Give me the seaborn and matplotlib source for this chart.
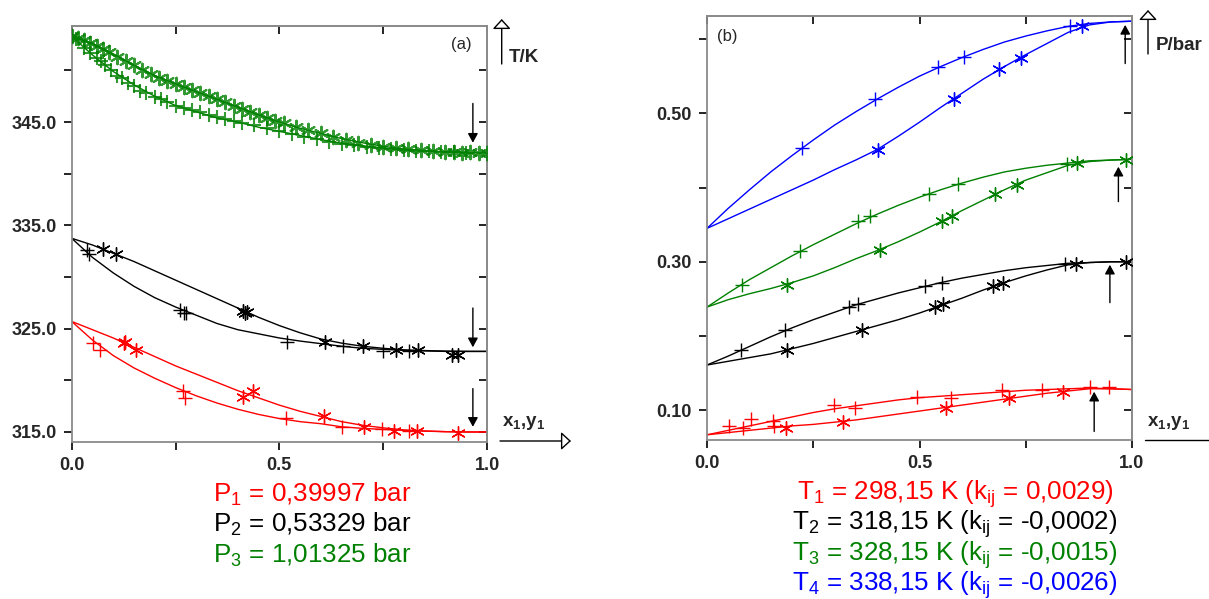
import matplotlib
matplotlib.use("Agg")
import matplotlib.pyplot as plt
import seaborn as sns
from matplotlib.ticker import FixedLocator

# ---------------- data: panel (a)  T / K vs x1,y1 ----------------
grid = [0.0, 0.05, 0.1, 0.15, 0.2, 0.25, 0.3, 0.35, 0.4, 0.45, 0.5,
        0.55, 0.6, 0.65, 0.7, 0.75, 0.8, 0.85, 0.9, 0.95, 1.0]

a_red_bub = [325.7, 323.9, 322.4, 321.2, 320.2, 319.3, 318.5, 317.8, 317.2, 316.7, 316.3,
             316.0, 315.8, 315.5, 315.35, 315.25, 315.15, 315.08, 315.03, 315.0, 315.0]
a_red_dew = [325.7, 324.9, 324.1, 323.2, 322.3, 321.4, 320.6, 319.8, 319.0, 318.3, 317.6,
             317.0, 316.5, 316.0, 315.65, 315.4, 315.2, 315.1, 315.03, 315.0, 315.0]
a_blk_bub = [333.75, 331.9, 330.4, 329.1, 328.0, 327.1, 326.3, 325.5, 324.9, 324.5, 324.1,
             323.8, 323.55, 323.3, 323.1, 323.0, 322.9, 322.85, 322.8, 322.8, 322.8]
a_blk_dew = [333.75, 333.1, 332.3, 331.5, 330.6, 329.7, 328.8, 327.9, 327.0, 326.1, 325.3,
             324.6, 324.0, 323.6, 323.3, 323.1, 322.95, 322.88, 322.83, 322.8, 322.8]
a_grn_bub = [353.3, 351.5, 349.9, 348.6, 347.5, 346.6, 346.0, 345.4, 345.0, 344.5, 344.1,
             343.7, 343.3, 342.95, 342.7, 342.5, 342.3, 342.2, 342.1, 342.05, 342.0]
a_grn_dew = [353.3, 352.6, 351.6, 350.5, 349.5, 348.7, 347.95, 347.2, 346.45, 345.7, 345.0,
             344.4, 343.9, 343.4, 343.0, 342.65, 342.4, 342.25, 342.1, 342.05, 342.0]

a_red_px = [0.052, 0.067, 0.267, 0.273, 0.516, 0.652, 0.746, 0.812]
a_red_pT = [323.6, 322.9, 319.0, 318.3, 316.4, 315.5, 315.3, 315.1]
a_red_sx = [0.126, 0.128, 0.155, 0.413, 0.437, 0.608, 0.704, 0.777, 0.832, 0.931]
a_red_sT = [323.6, 323.7, 322.9, 318.4, 319.0, 316.5, 315.5, 315.1, 315.1, 314.9]

a_blk_px = [0.036, 0.042, 0.261, 0.271, 0.276, 0.518, 0.654, 0.749, 0.812]
a_blk_pT = [332.6, 332.2, 326.8, 326.5, 326.5, 323.7, 323.3, 322.8, 322.8]
a_blk_sx = [0.075, 0.107, 0.413, 0.417, 0.421, 0.610, 0.701, 0.781, 0.833, 0.915, 0.930]
a_blk_sT = [332.7, 332.2, 326.7, 326.5, 326.6, 323.7, 323.3, 322.9, 322.9, 322.5, 322.5]

a_grn_px = [0.01, 0.03, 0.045, 0.06, 0.07, 0.08, 0.095, 0.11, 0.12, 0.135, 0.15, 0.165,
            0.18, 0.2, 0.215, 0.23, 0.25, 0.27, 0.29, 0.31, 0.33, 0.35, 0.37, 0.39, 0.41,
            0.44, 0.47, 0.5, 0.53, 0.56, 0.59, 0.62, 0.65, 0.68, 0.71, 0.74, 0.77, 0.8,
            0.83, 0.86, 0.89, 0.92, 0.95]
a_grn_pT = [353.0, 352.2, 351.7, 351.2, 350.9, 350.5, 350.0, 349.5, 349.3, 348.8, 348.5, 348.0,
            347.8, 347.4, 347.2, 346.9, 346.6, 346.4, 346.2, 346.0, 345.7, 345.5, 345.3, 345.1, 344.9,
            344.7, 344.4, 344.1, 343.8, 343.6, 343.4, 343.1, 342.9, 342.8, 342.6, 342.5, 342.4, 342.3,
            342.2, 342.2, 342.1, 342.1, 342.0]
a_grn_sx = [0.0, 0.015, 0.03, 0.045, 0.06, 0.075, 0.09, 0.11, 0.13, 0.15, 0.17, 0.19, 0.21,
            0.23, 0.25, 0.27, 0.29, 0.31, 0.33, 0.35, 0.37, 0.39, 0.41, 0.43, 0.45, 0.47, 0.49,
            0.51, 0.54, 0.57, 0.6, 0.63, 0.66, 0.69, 0.72, 0.75, 0.78, 0.81, 0.84, 0.87, 0.9,
            0.92, 0.94, 0.96, 0.98, 1.0]
a_grn_sT = [353.3, 353.1, 352.9, 352.7, 352.4, 352.1, 351.8, 351.3, 350.9, 350.5, 350.0, 349.7, 349.3,
            349.0, 348.7, 348.4, 348.1, 347.8, 347.5, 347.2, 346.9, 346.6, 346.3, 346.0, 345.7, 345.4, 345.1,
            344.9, 344.5, 344.2, 343.9, 343.6, 343.3, 343.0, 342.8, 342.6, 342.5, 342.4, 342.3, 342.2, 342.1,
            342.1, 342.0, 342.1, 342.0, 342.0]

# ---------------- data: panel (b)  P / bar vs x1,y1 ----------------
b_blu_bub = [0.345, 0.372, 0.397, 0.421, 0.443, 0.464, 0.484, 0.502, 0.519, 0.535, 0.550,
             0.563, 0.575, 0.586, 0.596, 0.604, 0.611, 0.617, 0.621, 0.623, 0.624]
b_blu_dew = [0.345, 0.358, 0.371, 0.384, 0.397, 0.410, 0.424, 0.437, 0.451, 0.469, 0.488,
             0.508, 0.527, 0.546, 0.563, 0.579, 0.594, 0.609, 0.619, 0.623, 0.624]
b_grn_bub = [0.239, 0.258, 0.276, 0.292, 0.308, 0.323, 0.337, 0.351, 0.364, 0.376, 0.387,
             0.397, 0.406, 0.414, 0.421, 0.426, 0.430, 0.433, 0.436, 0.437, 0.438]
b_grn_dew = [0.239, 0.249, 0.257, 0.264, 0.272, 0.281, 0.292, 0.304, 0.315, 0.327, 0.340,
             0.354, 0.369, 0.383, 0.397, 0.410, 0.420, 0.430, 0.435, 0.437, 0.438]
b_blk_bub = [0.161, 0.173, 0.186, 0.199, 0.211, 0.222, 0.232, 0.242, 0.250, 0.258, 0.265,
             0.272, 0.278, 0.283, 0.288, 0.292, 0.295, 0.298, 0.299, 0.300, 0.300]
b_blk_dew = [0.161, 0.166, 0.171, 0.176, 0.183, 0.190, 0.198, 0.206, 0.214, 0.222, 0.231,
             0.241, 0.251, 0.262, 0.272, 0.281, 0.289, 0.296, 0.299, 0.300, 0.300]
b_red_bub = [0.067, 0.073, 0.079, 0.085, 0.091, 0.097, 0.102, 0.106, 0.110, 0.114, 0.117,
             0.119, 0.121, 0.123, 0.125, 0.127, 0.128, 0.129, 0.130, 0.129, 0.128]
b_red_dew = [0.067, 0.070, 0.073, 0.076, 0.079, 0.081, 0.084, 0.087, 0.091, 0.095, 0.099,
             0.103, 0.107, 0.111, 0.115, 0.119, 0.123, 0.126, 0.129, 0.129, 0.128]

b_blu_px = [0.223, 0.395, 0.544, 0.605, 0.853]
b_blu_pP = [0.453, 0.519, 0.562, 0.576, 0.617]
b_blu_sx = [0.403, 0.580, 0.688, 0.738, 0.882]
b_blu_sP = [0.451, 0.519, 0.560, 0.575, 0.617]

b_grn_px = [0.082, 0.219, 0.356, 0.384, 0.523, 0.591, 0.848]
b_grn_pP = [0.269, 0.315, 0.355, 0.361, 0.391, 0.405, 0.432]
b_grn_sx = [0.188, 0.407, 0.552, 0.576, 0.678, 0.729, 0.871, 0.986]
b_grn_sP = [0.269, 0.316, 0.355, 0.362, 0.391, 0.403, 0.433, 0.437]

b_blk_px = [0.079, 0.184, 0.335, 0.356, 0.513, 0.552, 0.842]
b_blk_pP = [0.181, 0.208, 0.239, 0.243, 0.267, 0.272, 0.297]
b_blk_sx = [0.188, 0.364, 0.536, 0.556, 0.672, 0.697, 0.868, 0.986]
b_blk_sP = [0.181, 0.208, 0.239, 0.243, 0.267, 0.272, 0.297, 0.300]

b_red_px = [0.052, 0.084, 0.103, 0.156, 0.158, 0.299, 0.348, 0.495, 0.573, 0.693, 0.788, 0.900, 0.947]
b_red_pP = [0.079, 0.076, 0.088, 0.085, 0.079, 0.107, 0.103, 0.118, 0.116, 0.127, 0.127, 0.131, 0.132]
b_red_sx = [0.186, 0.321, 0.562, 0.711, 0.838]
b_red_sP = [0.076, 0.084, 0.103, 0.116, 0.124]

# arrows (x, from, to)
a_arrows = [(0.966, 346.8, 343.0), (0.966, 327.0, 323.2), (0.966, 319.2, 315.5)]
b_arrows = [(0.984, 0.567, 0.619), (0.968, 0.381, 0.428), (0.948, 0.245, 0.296), (0.911, 0.0715, 0.125)]

# texts
a_legend = ["P$_1$ = 0,39997 bar", "P$_2$ = 0,53329 bar", "P$_3$ = 1,01325 bar"]
a_legend_colors = ["#ff0000", "#000000", "#008000"]
b_legend = ["T$_1$ = 298,15 K (k$_{ij}$ = 0,0029)", "T$_2$ = 318,15 K (k$_{ij}$ = -0,0002)",
            "T$_3$ = 328,15 K (k$_{ij}$ = -0,0015)", "T$_4$ = 338,15 K (k$_{ij}$ = -0,0026)"]
b_legend_colors = ["#ff0000", "#000000", "#008000", "#0000ff"]

a_yticks_major = [315.0, 325.0, 335.0, 345.0]
a_yticks_minor = [320.0, 330.0, 340.0, 350.0]
b_yticks_major = [0.10, 0.30, 0.50]
b_yticks_minor = [0.20, 0.40, 0.60]
x_ticks_major = [0.0, 0.5, 1.0]
x_ticks_minor = [0.25, 0.75]

# ---------------- styling ----------------
sns.set_theme(style="white")
plt.rcParams["font.family"] = ["Liberation Sans", "DejaVu Sans"]
plt.rcParams["mathtext.default"] = "regular"

W, H = 1209, 599
fig = plt.figure(figsize=(W / 100, H / 100), dpi=100)


def px(x, y):
    return (x / W, 1 - y / H)


def add_axes(l, t, r, b):
    return fig.add_axes([l / W, 1 - b / H, (r - l) / W, (b - t) / H])


ax_a = add_axes(71.7, 26, 487, 442)
ax_b = add_axes(707, 16, 1132, 440)

ASTER = (6, 2, 0)
GRAY = "#8a8a8a"


def series(ax, xc, yb, yd, pxs, pys, sxs, sys_, color, alpha=1.0, lw_m=1.0):
    sns.lineplot(x=grid, y=yb, ax=ax, color=color, lw=1.0, sort=False, estimator=None, legend=False)
    sns.lineplot(x=grid, y=yd, ax=ax, color=color, lw=1.0, sort=False, estimator=None, legend=False)
    sns.scatterplot(x=pxs, y=pys, ax=ax, marker="+", s=100, color=color, linewidth=lw_m,
                    alpha=alpha, legend=False, zorder=3)
    sns.scatterplot(x=sxs, y=sys_, ax=ax, marker=ASTER, s=95, color=color, linewidth=lw_m,
                    alpha=alpha, legend=False, zorder=3)


series(ax_a, grid, a_grn_bub, a_grn_dew, a_grn_px, a_grn_pT, a_grn_sx, a_grn_sT, "#008000", 0.8, 1.5)
series(ax_a, grid, a_blk_bub, a_blk_dew, a_blk_px, a_blk_pT, a_blk_sx, a_blk_sT, "#000000")
series(ax_a, grid, a_red_bub, a_red_dew, a_red_px, a_red_pT, a_red_sx, a_red_sT, "#ff0000")

series(ax_b, grid, b_blu_bub, b_blu_dew, b_blu_px, b_blu_pP, b_blu_sx, b_blu_sP, "#0000ff")
series(ax_b, grid, b_grn_bub, b_grn_dew, b_grn_px, b_grn_pP, b_grn_sx, b_grn_sP, "#008000")
series(ax_b, grid, b_blk_bub, b_blk_dew, b_blk_px, b_blk_pP, b_blk_sx, b_blk_sP, "#000000")
series(ax_b, grid, b_red_bub, b_red_dew, b_red_px, b_red_pP, b_red_sx, b_red_sP, "#ff0000")

ax_a.set_xlim(0, 1)
ax_a.set_ylim(314.03, 354.3)
ax_b.set_xlim(0, 1)
ax_b.set_ylim(0.060, 0.631)

arrow_kw = dict(arrowstyle="-|>,head_length=0.55,head_width=0.3", color="black", lw=1.0,
                mutation_scale=10, shrinkA=0, shrinkB=0)
for x, y0, y1 in a_arrows:
    ax_a.annotate("", xy=(x, y1), xytext=(x, y0), arrowprops=arrow_kw)
for x, y0, y1 in b_arrows:
    ax_b.annotate("", xy=(x, y1), xytext=(x, y0), arrowprops=arrow_kw)


def style_axes(ax, ymaj, ymin, yfmt):
    ax.set_xlabel("")
    ax.set_ylabel("")
    for s in ax.spines.values():
        s.set_visible(True)
        s.set_color(GRAY)
        s.set_linewidth(1.3)
    ax.xaxis.set_major_locator(FixedLocator(x_ticks_major))
    ax.xaxis.set_minor_locator(FixedLocator(x_ticks_minor))
    ax.yaxis.set_major_locator(FixedLocator(ymaj))
    ax.yaxis.set_minor_locator(FixedLocator(ymin))
    ax.set_xticklabels([f"{v:.1f}" for v in x_ticks_major], fontweight="bold", fontsize=13)
    ax.set_yticklabels([yfmt.format(v) for v in ymaj], fontweight="bold", fontsize=13)
    ax.tick_params(which="both", direction="out", length=6, width=1.2, color="black",
                   left=True, bottom=True, top=False, right=False, pad=5)
    # inward ticks on top and right
    sx = ax.secondary_xaxis("top")
    sx.xaxis.set_major_locator(FixedLocator(x_ticks_major + x_ticks_minor))
    sx.tick_params(direction="in", length=6, width=1.2, color="black", labeltop=False)
    sx.spines["top"].set_color(GRAY)
    sx.spines["top"].set_linewidth(1.3)
    sy = ax.secondary_yaxis("right")
    sy.yaxis.set_major_locator(FixedLocator(ymaj + ymin))
    sy.tick_params(direction="in", length=6, width=1.2, color="black", labelright=False)
    sy.spines["right"].set_color(GRAY)
    sy.spines["right"].set_linewidth(1.3)


style_axes(ax_a, a_yticks_major, a_yticks_minor, "{:.1f}")
style_axes(ax_b, b_yticks_major, b_yticks_minor, "{:.2f}")

# panel tags
fig.text(*px(461.7, 45), "(a)", ha="center", va="center", fontsize=12)
fig.text(*px(727, 36), "(b)", ha="center", va="center", fontsize=12)

# axis labels with arrows
open_head = dict(arrowstyle="-|>,head_length=0.6,head_width=0.55", fc="white", ec="black",
                 lw=1.0, mutation_scale=10, shrinkA=0, shrinkB=0)
fig.add_artist(matplotlib.patches.FancyArrowPatch(px(501.7, 64), px(501.7, 19),
                                                  transform=fig.transFigure, **open_head))
fig.text(*px(509, 57), "T/K", ha="left", va="center", fontsize=13.5, fontweight="bold")
fig.add_artist(matplotlib.patches.FancyArrowPatch(px(1148, 54), px(1148, 10),
                                                  transform=fig.transFigure, **open_head))
fig.text(*px(1156, 45), "P/bar", ha="left", va="center", fontsize=13.5, fontweight="bold")

fig.add_artist(matplotlib.patches.FancyArrowPatch(px(500, 441), px(571, 441),
                                                  transform=fig.transFigure, **open_head))
fig.text(*px(502, 423), "x$_1$,y$_1$", ha="left", va="center", fontsize=13.5, fontweight="bold")
fig.add_artist(matplotlib.lines.Line2D([1145 / W, 1.0], [1 - 440 / H, 1 - 440 / H],
                                       transform=fig.transFigure, color="black", lw=1.0))
fig.text(*px(1147, 423), "x$_1$,y$_1$", ha="left", va="center", fontsize=13.5, fontweight="bold")

# condition legends
for i, (t, c) in enumerate(zip(a_legend, a_legend_colors)):
    fig.text(*px(213, 494 + 30.5 * i), t, ha="left", va="center", fontsize=18.7, color=c)
for i, (t, c) in enumerate(zip(b_legend, b_legend_colors)):
    fig.text(*px(955, 494 + 30.5 * i), t, ha="center", va="center", fontsize=18.7, color=c)

fig.savefig("out.png", dpi=100)
